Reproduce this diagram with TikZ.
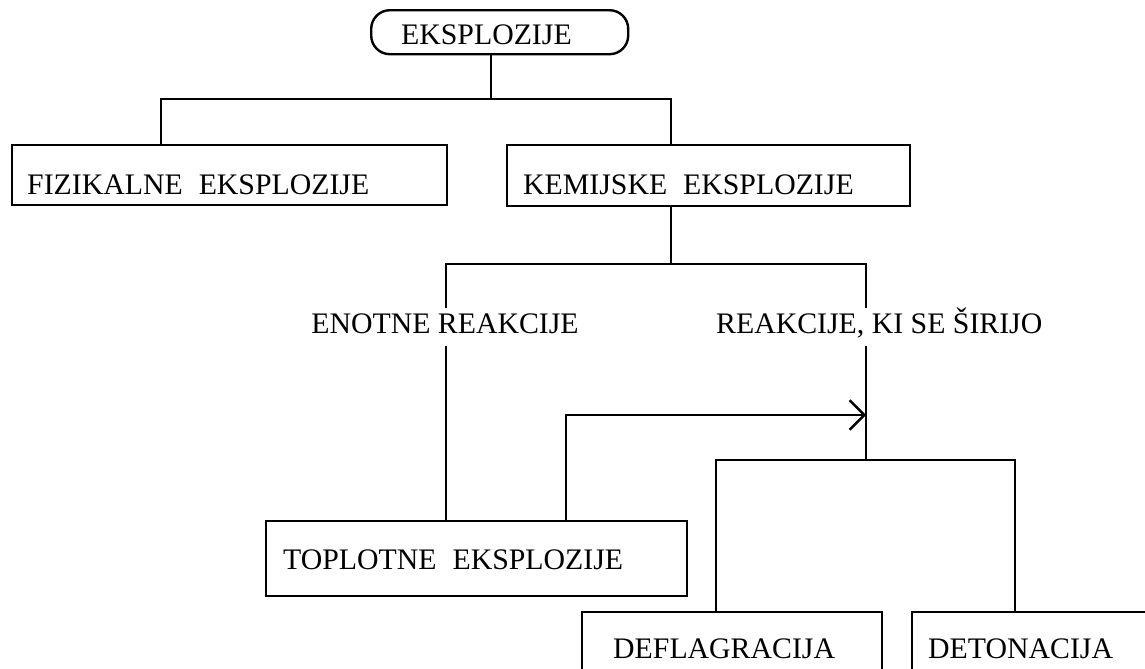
\documentclass[tikz,border=0pt]{standalone}
\usepackage{fontspec}
\setmainfont{Liberation Serif}
\usetikzlibrary{arrows.meta}
\begin{document}
\begin{tikzpicture}[x=0.75pt,y=-0.75pt,line width=1.8pt,
  txt/.style={font=\fontsize{22.35}{26}\selectfont},
  box/.style={txt,draw,rectangle,anchor=north west,align=left,inner ysep=0pt},
  lbl/.style={txt,inner sep=0pt,text height=18pt,text depth=9pt},
  tip/.style={-{Straight Barb[length=11pt,width=22pt]}}]
\useasboundingbox (0,0) rectangle (1145,668);
\clip (0,0) rectangle (1145,668);
% nodes
\node[box,rounded corners=14pt,inner xsep=22.5pt,text width=147.75pt,text height=25.5pt,text depth=7.5pt] (top) at (370,9) {EKSPLOZIJE};
\node[box,inner xsep=11.25pt,text width=303.75pt,text height=36.75pt,text depth=8.25pt] (fiz) at (11,144) {FIZIKALNE\hspace{12pt}EKSPLOZIJE};
\node[box,inner xsep=12pt,text width=278.25pt,text height=36.75pt,text depth=9pt] (kem) at (506,144) {KEMIJSKE\hspace{12pt}EKSPLOZIJE};
\node[lbl,anchor=base] (enot) at (445,333) {ENOTNE REAKCIJE};
\node[lbl,anchor=base west] (sir) at (715,333) {REAKCIJE, KI SE ŠIRIJO};
\node[box,inner xsep=12.75pt,text width=290.25pt,text height=36pt,text depth=20.25pt] (topl) at (265,520) {TOPLOTNE\hspace{12pt}EKSPLOZIJE};
\node[box,inner xsep=23.25pt,text width=178.5pt,text height=34.5pt,text depth=32.25pt] (def) at (581,611) {DEFLAGRACIJA};
\node[box,inner xsep=12pt,text width=162.75pt,text height=34.5pt,text depth=32.25pt] (det) at (911,611) {DETONACIJA};
% junction coordinates
\coordinate (j0) at (491,99);
\coordinate (a) at (161,99);
\coordinate (b) at (671,99);
\coordinate (c) at (671,264);
\coordinate (d) at (446,264);
\coordinate (e) at (866,264);
\coordinate (f) at (866,460);
\coordinate (g) at (716,460);
\coordinate (h) at (1015,460);
\coordinate (k) at (566,415);
% connectors
\draw (top.south -| j0) -- (j0);
\draw (fiz.north -| a) -- (a) -- (b) -- (kem.north -| b);
\draw (kem.south -| c) -- (c);
\draw (enot.north -| d) -- (d) -- (e) -- (sir.north -| e);
\draw (enot.south -| d) -- (topl.north -| d);
\draw (sir.south -| e) -- (f);
\draw (def.north -| g) -- (g) -- (h) -- (det.north -| h);
\draw[tip] (topl.north -| k) -- (k) -- (k -| e);
\end{tikzpicture}
\end{document}
